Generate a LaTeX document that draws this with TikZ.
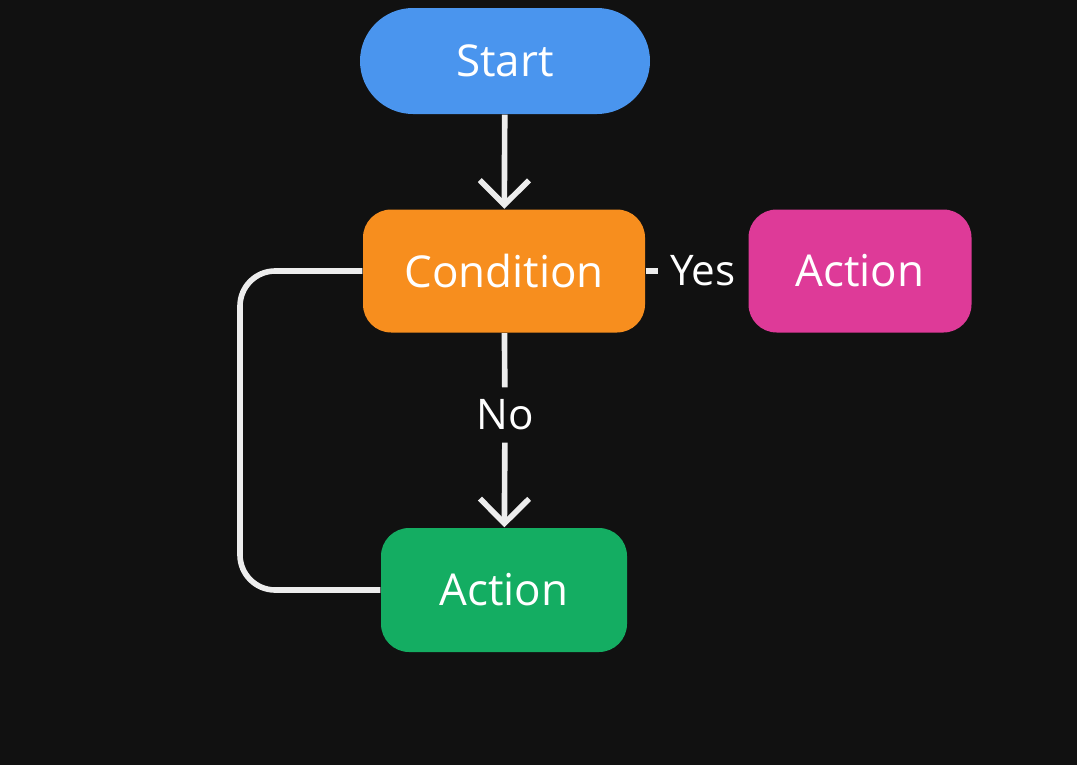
\documentclass[tikz,border=0pt]{standalone}
\usepackage{fontspec}
\setmainfont{Open Sans}
\usetikzlibrary{positioning, arrows.meta, calc}
\definecolor{bg}{HTML}{111111}
\definecolor{startblue}{HTML}{4A95EE}
\definecolor{condorange}{HTML}{F78E1E}
\definecolor{actpink}{HTML}{DE3A98}
\definecolor{actgreen}{HTML}{14AD62}
\definecolor{linewhite}{HTML}{EDEDED}
\begin{document}
\begin{tikzpicture}[
  box/.style={rounded corners=8pt, align=center, text=white,
              font=\fontsize{12.5}{15}\selectfont, inner sep=0pt},
  conn/.style={draw=linewhite, line width=1.6pt},
  >={Straight Barb[length=7pt, width=14pt, line width=1.6pt]}
]
  \fill[bg] (0,0) rectangle (10.77,-7.65);
  \useasboundingbox (0,0) rectangle (10.77,-7.65);

  % Nodes
  \node[box, fill=startblue, rounded corners=0.53cm, minimum width=2.9cm,
        minimum height=1.06cm] (start) at (5.05,-0.61) {Start};
  \node[box, fill=condorange, minimum width=2.82cm, minimum height=1.23cm]
        (cond) at (5.04,-2.71) {Condition};
  \node[box, fill=actpink, minimum width=2.23cm, minimum height=1.23cm]
        (yesact) at (8.60,-2.71) {Action};
  \node[box, fill=actgreen, minimum width=2.46cm, minimum height=1.24cm]
        (noact) at (5.04,-5.90) {Action};

  % Labels
  \node[text=white, font=\fontsize{12}{14}\selectfont] (nolbl) at (5.05,-4.15) {No};
  \node[text=white, font=\fontsize{12}{14}\selectfont] (yeslbl) at (7.03,-2.71) {Yes};

  % Connectors
  \draw[conn, ->] (start) -- (cond);
  \draw[conn] (cond) -- (nolbl);
  \draw[conn, ->] (nolbl) -- (noact);
  \draw[conn] (cond.east) -- (yeslbl.west);
  \draw[conn, rounded corners=10pt] (cond.west) -- (2.40,-2.71) -- (2.40,-5.90) -- (noact.west);
\end{tikzpicture}
\end{document}
